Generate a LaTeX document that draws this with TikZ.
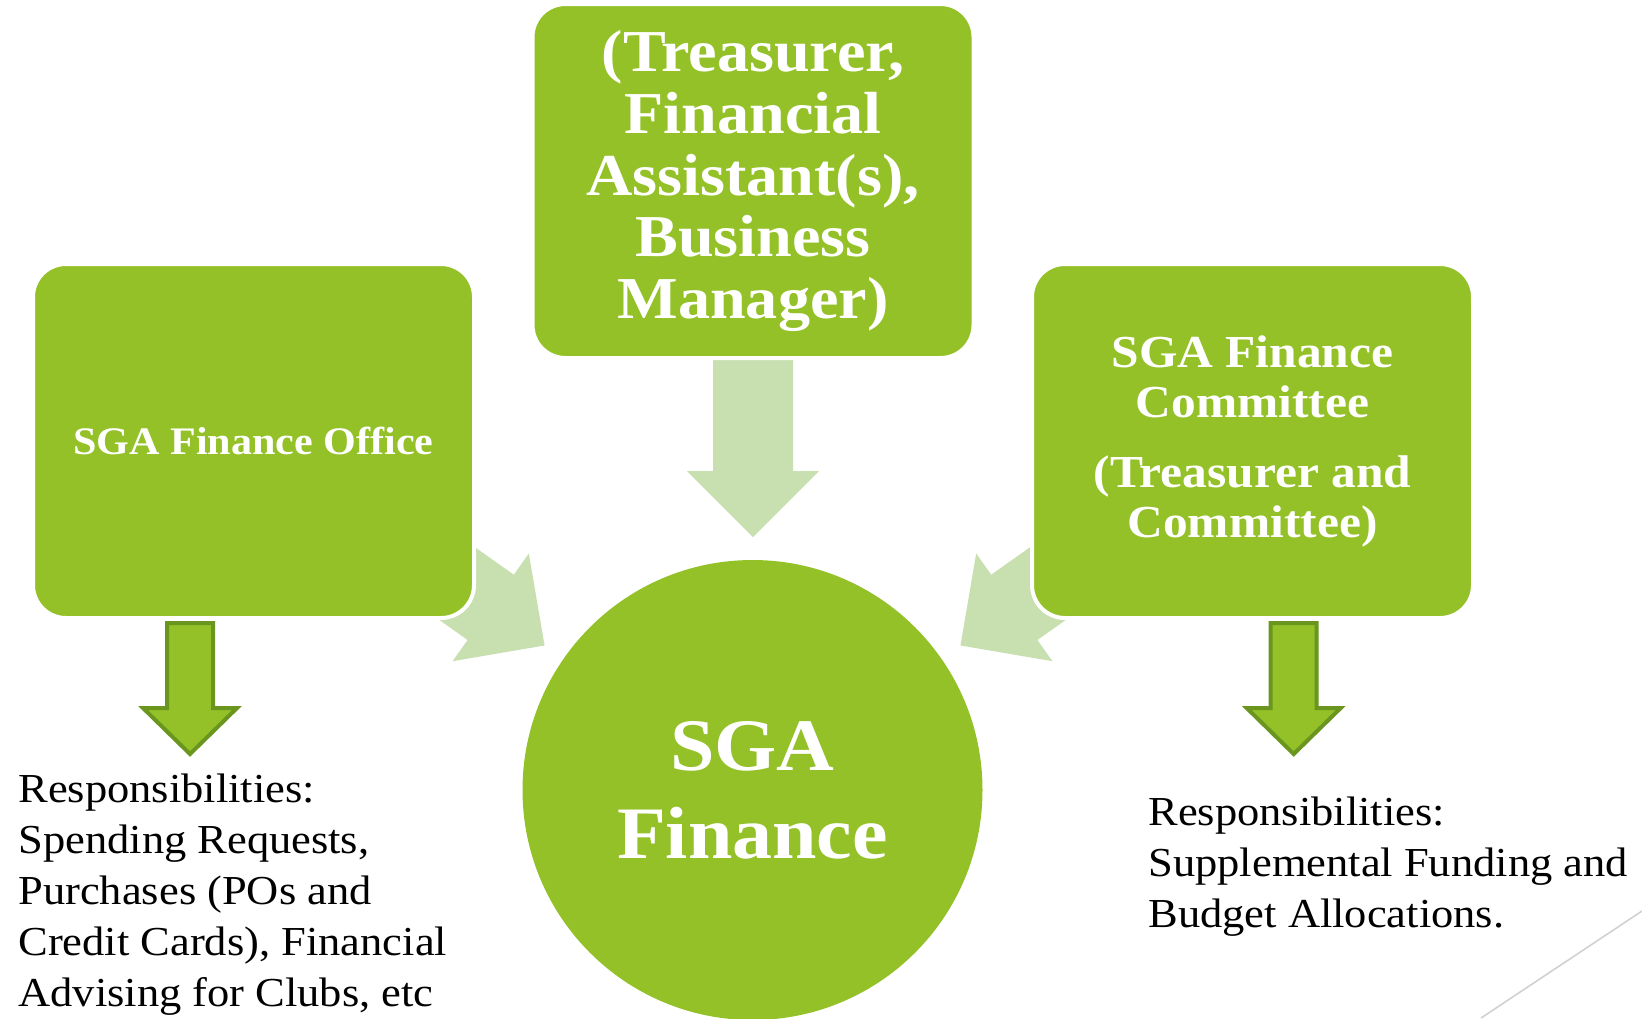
\documentclass[tikz,border=0pt]{standalone}
\usepackage{fontspec}
\setmainfont{Liberation Serif}[FakeStretch=1.08]

\definecolor{sgagreen}{HTML}{93C127}
\definecolor{feedgreen}{HTML}{C8DFB0}
\definecolor{olivegreen}{HTML}{6A961F}

\tikzset{
 unit box/.style={rectangle,rounded corners=16.5pt,fill=sgagreen,draw=white,line width=2pt,
  minimum width=220.5pt,minimum height=177pt,inner sep=0pt,text=white,align=center},
 hub/.style={circle,fill=sgagreen,minimum size=230pt,inner sep=0pt,text=white,align=center,
  font=\bfseries\fontsize{37}{44}\selectfont},
 duties/.style={anchor=north west,inner sep=0pt,align=left,font=\fontsize{20.6}{25.5}\selectfont},
 feed arrow/.pic={\fill[feedgreen](-40,0)--(40,0)--(40,111)--(66,111)--(0,177)--(-66,111)--(-40,111)--cycle;},
 out arrow/.pic={\filldraw[fill=sgagreen,draw=olivegreen,line width=2pt](-23,0)--(23,0)--(23,85)--(47,85)--(0,131)--(-47,85)--(-23,85)--cycle;}
}

\begin{document}
\begin{tikzpicture}[x=0.5pt,y=-0.5pt]
 \useasboundingbox (0,0) rectangle (1642,1018);
 % pale arrows run under the three boxes
 \pic at (753,360) {feed arrow};
 \pic[rotate=54.7] at (400.1,543.2) {feed arrow};
 \pic[rotate=-54.7] at (1104.9,543.2) {feed arrow};
 \node[unit box,font=\bfseries\fontsize{29.7}{30.85}\selectfont] (staff) at (753,181) {(Treasurer,\\Financial\\Assistant(s),\\Business\\Manager)};
 \node[unit box,font=\bfseries\fontsize{19.5}{24}\selectfont] (office) at (253.5,441) {SGA Finance Office};
 \node[unit box,font=\bfseries\fontsize{22.9}{25}\selectfont] (committee) at (1252.5,441) {SGA Finance\\Committee\\[10pt](Treasurer and\\Committee)};
 \node[hub] (finance) at (752.5,790) {SGA\\Finance};
 % what each unit handles
 \pic at (190,623) {out arrow};
 \pic at (1293.7,623) {out arrow};
 \node[duties] (office duties) at (18,773) {Responsibilities:\\Spending Requests,\\Purchases (POs and\\Credit Cards), Financial\\Advising for Clubs, etc};
 \node[duties] (committee duties) at (1148,796) {Responsibilities:\\Supplemental Funding and\\Budget Allocations.};
 \draw[black!18,line width=0.8pt] (1481,1018)--(1645,909);
\end{tikzpicture}
\end{document}
